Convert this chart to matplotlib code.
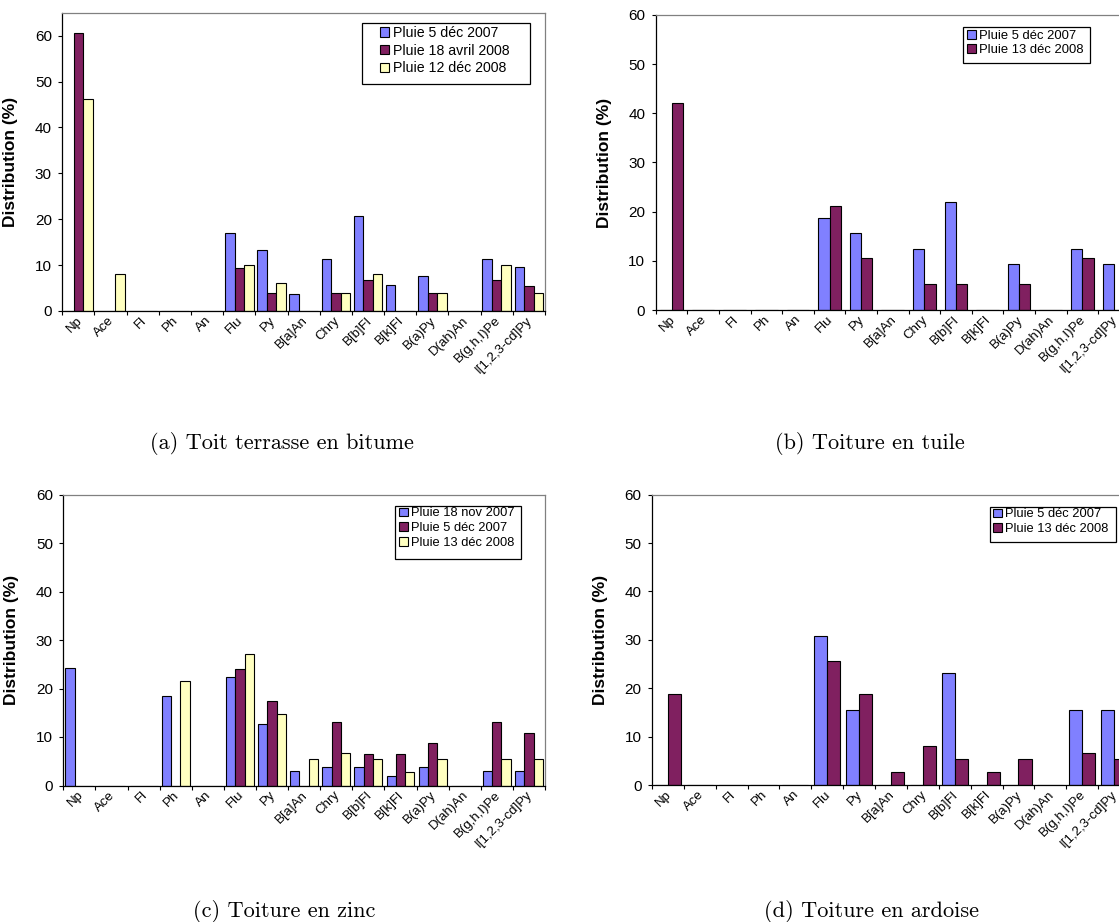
import numpy as np
import matplotlib
matplotlib.use("Agg")
import matplotlib.pyplot as plt
from matplotlib.patches import Patch, Rectangle
from matplotlib.transforms import ScaledTranslation

plt.rcParams['font.family'] = ['Liberation Sans', 'DejaVu Sans']

categories = ["Np", "Ace", "Fl", "Ph", "An", "Flu", "Py", "B[a]An", "Chry",
              "B[b]Fl", "B[k]Fl", "B(a)Py", "D(ah)An", "B(g,h,I)Pe", "I[1,2,3-cd]Py"]

# (a) Toit terrasse en bitume
a_labels = ["Pluie 5 déc 2007", "Pluie 18 avril 2008", "Pluie 12 déc 2008"]
a_s1 = [0, 0, 0, 0, 0, 16.9, 13.2, 3.8, 11.4, 20.8, 5.7, 7.6, 0, 11.4, 9.5]
a_s2 = [60.6, 0, 0, 0, 0, 9.3, 4.0, 0, 4.0, 6.7, 0, 4.0, 0, 6.7, 5.4]
a_s3 = [46.1, 8.0, 0, 0, 0, 10.0, 6.0, 0, 4.0, 8.0, 0, 4.0, 0, 10.0, 4.0]

# (b) Toiture en tuile
b_labels = ["Pluie 5 déc 2007", "Pluie 13 déc 2008"]
b_s1 = [0, 0, 0, 0, 0, 18.8, 15.6, 0, 12.5, 21.9, 0, 9.4, 0, 12.5, 9.4]
b_s2 = [42.0, 0, 0, 0, 0, 21.1, 10.5, 0, 5.2, 5.2, 0, 5.2, 0, 10.5, 0]

# (c) Toiture en zinc
c_labels = ["Pluie 18 nov 2007", "Pluie 5 déc 2007", "Pluie 13 déc 2008"]
c_s1 = [24.3, 0, 0, 18.4, 0, 22.3, 12.6, 3.0, 3.9, 3.9, 1.9, 3.9, 0, 3.0, 3.0]
c_s2 = [0, 0, 0, 0, 0, 24.0, 17.4, 0, 13.1, 6.5, 6.5, 8.7, 0, 13.1, 10.9]
c_s3 = [0, 0, 0, 21.6, 0, 27.1, 14.8, 5.4, 6.7, 5.4, 2.7, 5.4, 0, 5.4, 5.4]

# (d) Toiture en ardoise
d_labels = ["Pluie 5 déc 2007", "Pluie 13 déc 2008"]
d_s1 = [0, 0, 0, 0, 0, 30.7, 15.4, 0, 0, 23.1, 0, 0, 0, 15.4, 15.4]
d_s2 = [18.8, 0, 0, 0, 0, 25.6, 18.8, 2.6, 8.1, 5.3, 2.6, 5.3, 0, 6.7, 5.3]

captions = ["(a) Toit terrasse en bitume", "(b) Toiture en tuile",
            "(c) Toiture en zinc", "(d) Toiture en ardoise"]

COLORS = ["#8080FF", "#802060", "#FFFFC0"]

W, H = 1119, 922
fig = plt.figure(figsize=(W / 100, H / 100), dpi=100)


def make_axes(left, top, right, bottom):
    return fig.add_axes([left / W, 1 - bottom / H, (right - left) / W, (bottom - top) / H])


def draw_panel(rect, series, labels, ymax, barw, box, sw_left, row1, leg_fs, leg_sp):
    ax = make_axes(*rect)
    n = len(series)
    x = np.arange(len(categories)) + 0.5
    for i, vals in enumerate(series):
        off = (i - (n - 1) / 2) * barw
        ax.bar(x + off, vals, width=barw, color=COLORS[i], edgecolor="black",
               linewidth=0.8, zorder=2)
    ax.set_xlim(0, len(categories))
    ax.set_ylim(0, ymax)
    ax.set_yticks([0, 10, 20, 30, 40, 50, 60])
    ax.tick_params(axis="y", direction="out", length=3, width=0.8, pad=4.5,
                   labelsize=11, colors="black")
    ax.set_xticks(x)
    ax.set_xticklabels(categories, rotation=45, ha="right", rotation_mode="anchor",
                       va="top", fontsize=9.5)
    ax.tick_params(axis="x", which="major", length=0, pad=2.5)
    shift = ScaledTranslation(-2.5 / 100, 0, fig.dpi_scale_trans)
    for lab in ax.get_xticklabels():
        lab.set_transform(lab.get_transform() + shift)
    ax.set_xticks(np.arange(len(categories) + 1), minor=True)
    ax.tick_params(axis="x", which="minor", direction="out", length=3, width=0.8)
    for side in ("left", "bottom"):
        ax.spines[side].set_color("black")
        ax.spines[side].set_linewidth(0.9)
    for side in ("top", "right"):
        ax.spines[side].set_color("#808080")
        ax.spines[side].set_linewidth(0.9)
    for s in ax.spines.values():
        s.set_zorder(3)
    ax.set_ylabel("Distribution (%)", fontsize=12.5, fontweight="bold")
    wpx = rect[2] - rect[0]
    ax.yaxis.set_label_coords(-44 / wpx, 0.5)

    # legend frame
    x0, y0, x1, y1 = box
    ax.add_patch(Rectangle((x0 / W, 1 - y1 / H), (x1 - x0) / W, (y1 - y0) / H,
                           transform=fig.transFigure, facecolor="white",
                           edgecolor="black", linewidth=0.9, clip_on=False, zorder=4))
    handles = [Patch(facecolor=COLORS[i], edgecolor="black", linewidth=0.8)
               for i in range(n)]
    fpx = leg_fs * 100 / 72
    rowh = 1.17 * fpx
    leg = ax.legend(handles, labels, loc="upper left",
                    bbox_to_anchor=(sw_left / W, 1 - (row1 - rowh / 2) / H),
                    bbox_transform=fig.transFigure, borderaxespad=0, borderpad=0,
                    fontsize=leg_fs, frameon=False,
                    handlelength=0.66, handleheight=0.66, handletextpad=0.28,
                    labelspacing=leg_sp)
    leg.set_zorder(5)
    return ax


draw_panel((62.3, 12.7, 545, 311), [a_s1, a_s2, a_s3], a_labels, 65, 0.295,
           (362, 23.3, 530, 84.3), 380, 34, 10.2, 0.27)
draw_panel((655.7, 15, 1129.7, 310), [b_s1, b_s2], b_labels, 60, 0.36,
           (963, 27.3, 1090, 63.3), 967, 37.7, 9.4, 0.15)
draw_panel((63.3, 494.5, 545, 785.5), [c_s1, c_s2, c_s3], c_labels, 60, 0.29,
           (394.6, 505.7, 521.4, 559), 399, 515, 9.3, 0.21)
draw_panel((652, 494.7, 1130, 785), [d_s1, d_s2], d_labels, 60, 0.41,
           (989.6, 506.7, 1116, 542.3), 993, 516, 9.3, 0.21)

cap_pos = [(282, 443), (870, 443), (284, 911), (871, 911)]
for (cx, cy), txt in zip(cap_pos, captions):
    fig.text(cx / W, 1 - cy / H, txt, family="cmr10", fontsize=16,
             ha="center", va="center")

fig.savefig("out.png", dpi=100)
